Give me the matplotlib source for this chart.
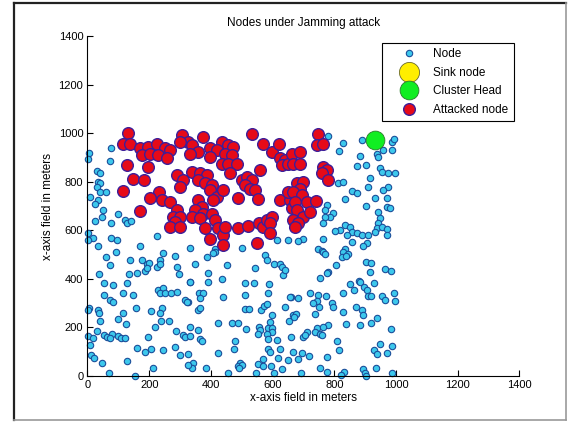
import matplotlib
matplotlib.use("Agg")
import matplotlib.pyplot as plt
from matplotlib.lines import Line2D

plt.rcParams['font.family'] = ['Liberation Sans', 'DejaVu Sans']

# --- data (meters) ---
node_pts = [
    (5, 919), (2, 895), (76, 940), (73, 885), (30, 843), (41, 834), (35, 800), (41, 793), (30, 779),
    (8, 738), (41, 758), (60, 758), (35, 724), (24, 710), (49, 683), (46, 656), (24, 638), (76, 628),
    (100, 667), (122, 642), (127, 631), (141, 639), (2, 587), (19, 570), (2, 562), (76, 570), (95, 560),
    (35, 536), (224, 577), (170, 535),
    (332, 528), (413, 525), (500, 528), (613, 562), (651, 560),
    (781, 988), (829, 960), (816, 926), (889, 971), (986, 964), (994, 974), (959, 930), (986, 930),
    (937, 916), (943, 900), (883, 907), (872, 864), (903, 868), (948, 855), (953, 841), (975, 834),
    (997, 834), (916, 817), (813, 793), (827, 797), (910, 779), (856, 762), (872, 754), (975, 779),
    (959, 765), (932, 735), (970, 731), (835, 727), (775, 704), (770, 683), (903, 700), (970, 697),
    (980, 690), (797, 672), (786, 656), (770, 656), (943, 676), (948, 649), (943, 628), (764, 628),
    (835, 621), (851, 614), (818, 601), (802, 598), (856, 594), (840, 580), (872, 587), (889, 580),
    (910, 580), (937, 611), (953, 614), (970, 607), (932, 594), (970, 580), (764, 564), (700, 566),
    (683, 557), (748, 525), (759, 516), (835, 525), (829, 511), (856, 553), (905, 549), (894, 535),
    (60, 491), (92, 512), (138, 477), (176, 477), (192, 461), (200, 466), (235, 477), (246, 505),
    (284, 494), (73, 457), (38, 422), (136, 422), (160, 425), (186, 433), (192, 443), (224, 447),
    (235, 461), (289, 447), (296, 420), (332, 388), (127, 384), (53, 381), (84, 374), (230, 354),
    (246, 361), (235, 340), (251, 343), (270, 343), (289, 347), (316, 313), (327, 306), (53, 333),
    (116, 340), (148, 333), (73, 313), (84, 306), (6, 278), (3, 271), (35, 271), (38, 261), (157, 278),
    (205, 269), (240, 278), (235, 261), (114, 258), (100, 233), (125, 214), (41, 226), (237, 226),
    (265, 226), (219, 200), (32, 186), (53, 169), (62, 162), (78, 173), (73, 155), (100, 164),
    (108, 155), (122, 155), (3, 164), (17, 158), (287, 185), (311, 169), (197, 159), (8, 127),
    (160, 114), (186, 100), (205, 110), (246, 107), (284, 121), (300, 86), (327, 89), (13, 86),
    (21, 73), (46, 52), (127, 63), (211, 31), (71, 11), (154, 0),
    (386, 491), (413, 512), (408, 505), (348, 461), (451, 457), (392, 425), (392, 388), (332, 388),
    (437, 398), (510, 384), (541, 384), (543, 443), (575, 498), (581, 477), (605, 461), (624, 461),
    (629, 447), (635, 416), (640, 436), (588, 379), (584, 343), (659, 326), (510, 333), (440, 324),
    (361, 343), (375, 340), (365, 320), (321, 306), (359, 271), (365, 278), (510, 274), (523, 274),
    (562, 271), (573, 288), (581, 295), (599, 251), (640, 285), (591, 223), (653, 228), (667, 251),
    (332, 203), (357, 189), (422, 219), (467, 219), (487, 219), (513, 192), (556, 200), (559, 189),
    (584, 196), (599, 196), (599, 182), (551, 173), (581, 175), (316, 159), (332, 164), (365, 151),
    (370, 145), (478, 145), (476, 111), (584, 151), (613, 148), (659, 159), (586, 110), (591, 100),
    (624, 110), (424, 93), (570, 68), (551, 48), (570, 41), (595, 41), (618, 73), (651, 66),
    (494, 52), (489, 41), (500, 45), (491, 31), (343, 52), (340, 31), (327, 45), (383, 31),
    (456, 11), (545, 11), (605, 14), (629, 27),
    (764, 512), (770, 502), (824, 491), (845, 502), (838, 494), (805, 457), (781, 429), (775, 425),
    (903, 470), (918, 466), (916, 429), (964, 439), (983, 433), (754, 402), (851, 379), (864, 354),
    (881, 392), (883, 388), (896, 368), (907, 354), (910, 329), (918, 329), (929, 381), (827, 343),
    (721, 343), (656, 324), (683, 320), (748, 333), (773, 329), (743, 310), (732, 302), (751, 283),
    (737, 255), (791, 302), (797, 283), (827, 265), (870, 283), (889, 271), (892, 251), (953, 329),
    (964, 313), (993, 343), (997, 310), (676, 255), (669, 244), (918, 219), (937, 237), (838, 214),
    (883, 210), (781, 210), (743, 196), (737, 182), (754, 175), (759, 168), (710, 182), (700, 159),
    (705, 169), (764, 200), (983, 192), (810, 145), (816, 107), (948, 130), (929, 107), (939, 90),
    (970, 96), (986, 123), (694, 93), (683, 72), (719, 82), (777, 77), (667, 100), (754, 31),
    (777, 18), (831, 18), (820, 4), (892, 27), (899, 11), (903, 2), (935, 31), (986, 13), (691, 14),
]
attacked_pts = [
    (132, 999), (114, 955), (138, 955), (170, 937), (197, 944), (224, 955), (251, 937), (267, 930),
    (176, 910), (203, 916), (230, 910), (257, 896), (127, 868), (197, 861), (148, 813), (183, 809),
    (116, 761), (232, 758), (203, 731), (240, 724), (267, 717), (289, 683), (170, 680), (278, 656),
    (300, 656), (283, 635), (267, 614), (300, 614), (289, 827), (311, 806), (300, 779), (305, 992),
    (327, 964), (300, 964),
    (375, 985), (338, 951), (359, 923), (332, 916), (435, 964), (456, 951), (473, 944), (397, 937),
    (419, 930), (397, 903), (446, 916), (467, 909), (435, 875), (456, 875), (483, 875), (338, 841),
    (365, 834), (386, 827), (359, 806), (381, 793), (402, 786), (397, 765), (419, 738), (408, 724),
    (440, 765), (462, 834), (489, 731), (500, 806), (516, 820), (532, 806), (510, 786), (527, 772),
    (543, 765), (559, 848), (551, 727), (532, 996), (570, 957), (597, 923), (622, 957), (624, 896),
    (640, 889), (629, 868), (651, 875), (662, 916), (624, 724), (656, 724), (651, 758), (662, 690),
    (359, 724), (370, 697), (348, 683), (375, 669), (338, 656), (365, 649), (402, 669), (413, 642),
    (381, 608), (397, 566), (424, 608), (440, 580), (446, 612), (440, 539), (489, 610), (521, 617),
    (556, 628), (570, 614), (581, 642), (597, 656), (591, 628), (591, 587), (548, 546),
    (748, 996), (743, 951), (764, 955), (689, 923), (667, 875), (689, 875), (764, 861), (775, 848),
    (759, 834), (780, 806), (678, 793), (700, 800), (689, 772), (667, 758), (694, 745), (673, 717),
    (678, 683), (700, 656), (667, 642), (683, 628), (710, 717), (741, 721), (721, 676), (673, 614),
]
ch_x, ch_y = [932], [971]
sink_x, sink_y = [1150], [1200]

node_x = [p[0] for p in node_pts]
node_y = [p[1] for p in node_pts]
att_x = [p[0] for p in attacked_pts]
att_y = [p[1] for p in attacked_pts]

fig = plt.figure(figsize=(5.71, 4.23), dpi=100)
ax = fig.add_axes([0.1532, 0.1111, 0.7566, 0.8038])

ax.plot(node_x, node_y, 'o', ms=4.6, mfc='#3cc8ec', mec='#1a4e9a', mew=0.8,
        ls='none', label='Node', clip_on=False)
ax.plot(sink_x, sink_y, 'o', ms=14.5, mfc='#ffee00', mec='#6a6a2a', mew=0.6,
        ls='none', label='Sink node')
ax.plot(ch_x, ch_y, 'o', ms=13.5, mfc='#11ee22', mec='#2a7a2a', mew=0.6,
        ls='none', label='Cluster Head')
ax.plot(att_x, att_y, 'o', ms=8.4, mfc='#e60a18', mec='#3c1e9a', mew=1.0,
        ls='none', label='Attacked node')

ax.set_xlim(0, 1400)
ax.set_ylim(0, 1400)
ax.set_xticks(range(0, 1401, 200))
ax.set_yticks(range(0, 1401, 200))
ax.spines['top'].set_visible(False)
ax.spines['right'].set_visible(False)
ax.tick_params(direction='in', length=4, width=0.8, labelsize=8, pad=3)
ax.set_title('Nodes under Jamming attack', fontsize=8.5, pad=7)
ax.set_xlabel('x-axis field in meters', fontsize=8.5, labelpad=1)
ax.set_ylabel('x-axis field in meters', fontsize=8.5, labelpad=3)

leg = ax.legend(loc='upper right', bbox_to_anchor=(0.987, 0.979), borderaxespad=0,
                fontsize=8.5, frameon=True, fancybox=False, framealpha=1,
                edgecolor='black', handlelength=3.6, handletextpad=0.3,
                labelspacing=0.55, borderpad=0.45, markerscale=1.0)
leg.get_frame().set_linewidth(0.8)

# window-style frame around the picture
W, H = 571.0, 423.0
fig.add_artist(Line2D([13.5 / W, 13.5 / W], [3 / H, 1 - 3.5 / H], color='#222222', lw=1.6))
fig.add_artist(Line2D([13.5 / W, 565.5 / W], [1 - 3.5 / H, 1 - 3.5 / H], color='#222222', lw=1.6))
fig.add_artist(Line2D([565.5 / W, 565.5 / W], [3 / H, 1 - 3.5 / H], color='#9a9a9a', lw=1.2))
fig.add_artist(Line2D([13.5 / W, 565.5 / W], [3 / H, 3 / H], color='#9a9a9a', lw=1.2))

fig.savefig('out.png', dpi=100)
